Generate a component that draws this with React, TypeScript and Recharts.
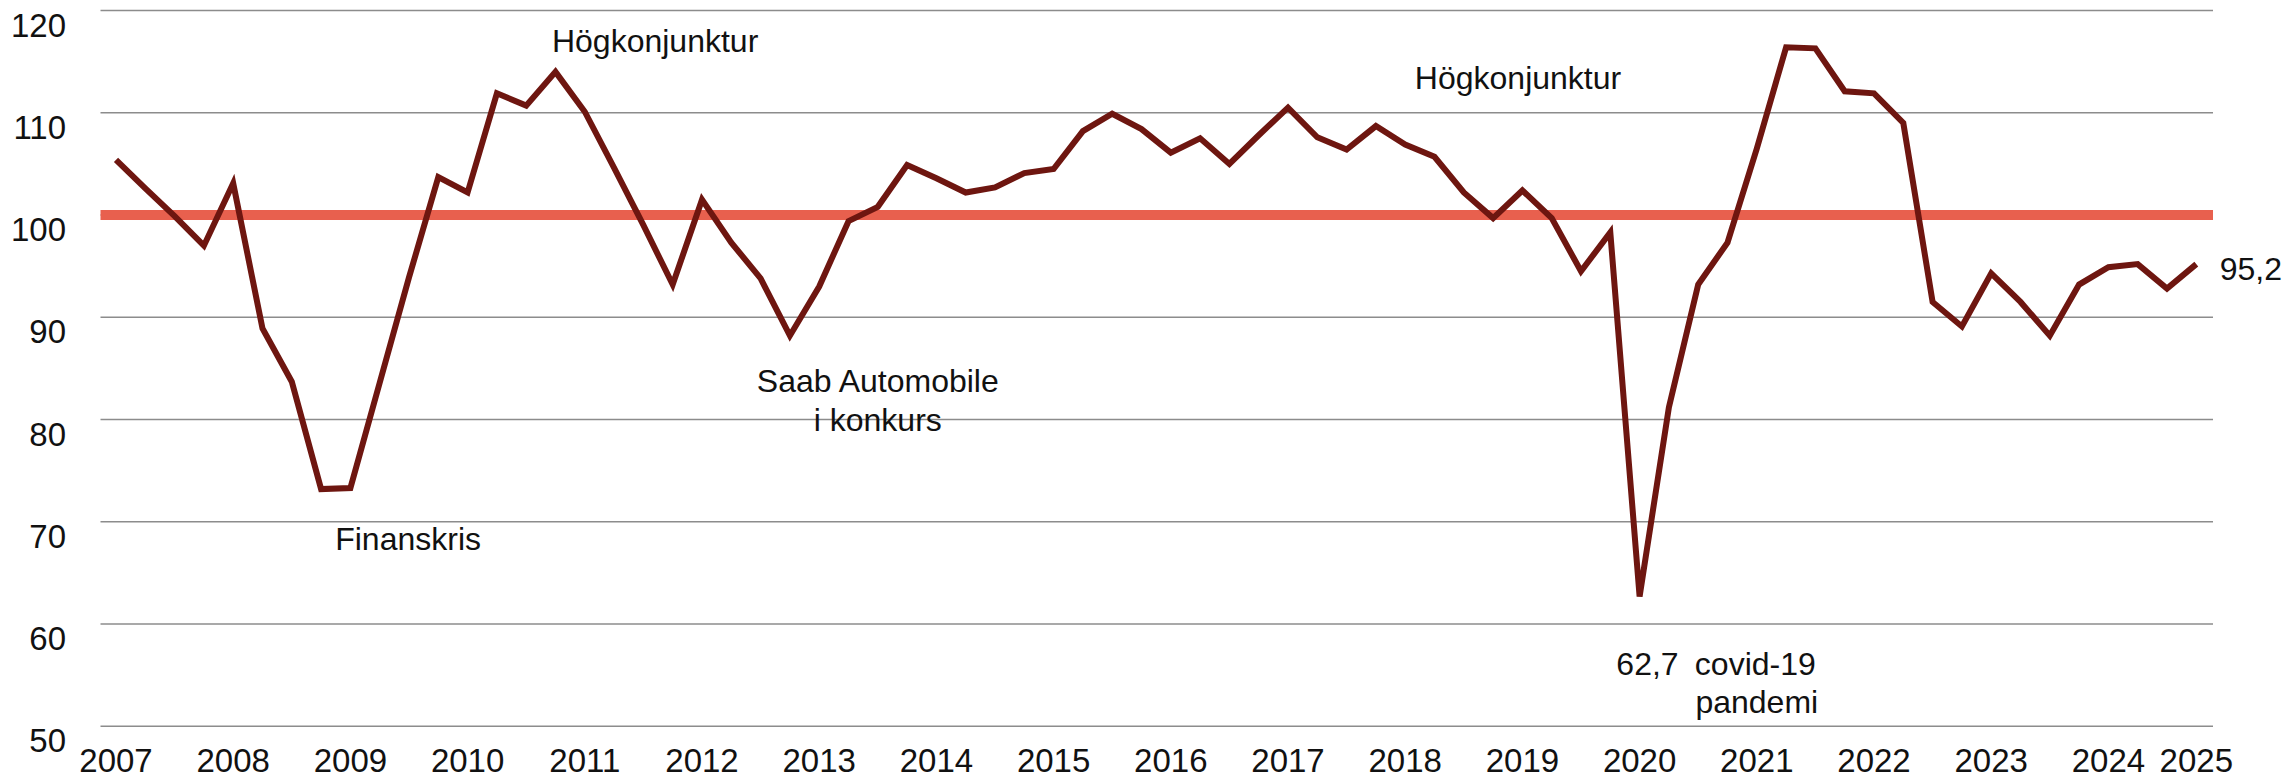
import { LineChart, Line, XAxis, YAxis, CartesianGrid, ReferenceLine, ReferenceDot } from "recharts";

document.body.style.margin = "0";

// kvartal 2007 K1 – 2024 K4
const years = [
  2007, 2008, 2009, 2010, 2011, 2012, 2013, 2014, 2015,
  2016, 2017, 2018, 2019, 2020, 2021, 2022, 2023, 2024,
];
const quarters = years.flatMap((y) => ["K1", "K2", "K3", "K4"].map((q) => `${y} ${q}`));

const indexValues = [
  105.4, 102.6, 99.9, 97.0, 103.1, 88.9, 83.7, 73.2, 73.3, 83.6, 93.9, 103.7,
  102.2, 111.9, 110.7, 114.0, 110.1, 104.6, 99.0, 93.2, 101.5, 97.3, 93.8, 88.2,
  93.0, 99.4, 100.8, 104.9, 103.6, 102.2, 102.7, 104.1, 104.5, 108.2, 109.9, 108.4,
  106.1, 107.5, 105.0, 107.8, 110.5, 107.6, 106.4, 108.7, 106.9, 105.7, 102.2, 99.7,
  102.4, 99.7, 94.5, 98.3, 62.7, 81.2, 93.2, 97.3, 106.5, 116.4, 116.3, 112.1,
  111.9, 109.0, 91.5, 89.1, 94.3, 91.5, 88.2, 93.2, 94.9, 95.2, 92.8, 95.2,
];

const yTicks = [50, 60, 70, 80, 90, 100, 110, 120];
const xTickPositions = [0, 4, 8, 12, 16, 20, 24, 28, 32, 36, 40, 44, 48, 52, 56, 60, 64, 68, 71];
const xTickLabels = [
  "2007", "2008", "2009", "2010", "2011", "2012", "2013", "2014", "2015", "2016",
  "2017", "2018", "2019", "2020", "2021", "2022", "2023", "2024", "2025",
];

const annotationTexts = [
  "Högkonjunktur", "Högkonjunktur", "Finanskris", "Saab Automobile", "i konkurs",
  "62,7", "covid-19", "pandemi", "95,2",
];
const annotationIdx = [18.4, 47.85, 9.97, 26.0, 26.0, 52.27, 55.95, 56.0, 71.8];
const annotationValues = [115.9, 112.3, 67.2, 82.65, 78.9, 55.05, 55.05, 51.3, 93.6];

const data = quarters.map((period, i) => ({ idx: i, period, value: indexValues[i] }));

const FONT = '"Liberation Sans", Arial, Helvetica, sans-serif';

const XTick = (props: any) => {
  const { x, y, payload } = props;
  const pos = xTickPositions.indexOf(payload.value);
  return (
    <text x={x} y={y + 44} textAnchor="middle" fontSize={33} fontFamily={FONT} fill="#111">
      {xTickLabels[pos]}
    </text>
  );
};

const YTick = (props: any) => {
  const { y, payload } = props;
  return (
    <text x={66} y={y + 26} textAnchor="end" fontSize={33} fontFamily={FONT} fill="#111">
      {payload.value}
    </text>
  );
};

export default function App() {
  return (
    <LineChart
      width={2287}
      height={778}
      data={data}
      margin={{ top: 10.5, right: 74, left: 0, bottom: 0 }}
    >
      <CartesianGrid vertical={false} stroke="#8c8c8c" strokeWidth={1.5} />
      <XAxis
        dataKey="idx"
        type="number"
        domain={[0, 71]}
        ticks={xTickPositions}
        interval={0}
        axisLine={false}
        tickLine={false}
        tickSize={0}
        height={51.7}
        padding={{ left: 15.5, right: 16.7 }}
        tick={<XTick />}
      />
      <YAxis
        domain={[50, 120]}
        ticks={yTicks}
        axisLine={false}
        tickLine={false}
        tickSize={0}
        width={100.5}
        tick={<YTick />}
      />
      <ReferenceLine y={100} stroke="#E8604E" strokeWidth={10} />
      <Line
        type="linear"
        dataKey="value"
        stroke="#6E1610"
        strokeWidth={6}
        dot={false}
        isAnimationActive={false}
      />
      {annotationTexts.map((t, i) => (
        <ReferenceDot
          key={`ann-${i}`}
          x={annotationIdx[i]}
          y={annotationValues[i]}
          r={0}
          ifOverflow="visible"
          shape={(p: any) => (
            <text
              x={p.cx}
              y={p.cy}
              textAnchor={t === "95,2" ? "start" : "middle"}
              fontSize={32}
              fontFamily={FONT}
              fill="#111"
            >
              {t}
            </text>
          )}
        />
      ))}
    </LineChart>
  );
}
